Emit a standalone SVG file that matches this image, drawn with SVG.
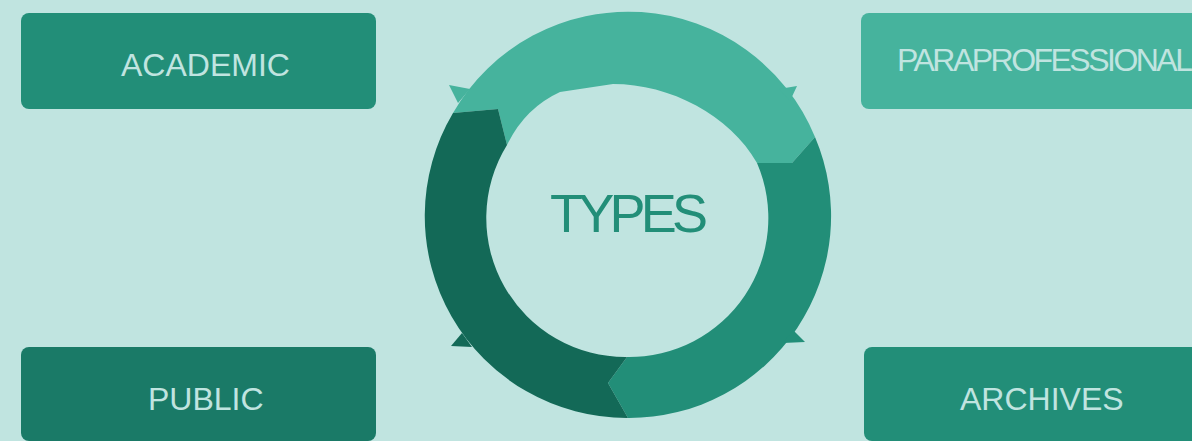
<svg xmlns="http://www.w3.org/2000/svg" width="1192" height="441" viewBox="0 0 1192 441">
  <style>
    .label { font-family: "Liberation Sans", Arial, sans-serif; font-size: 32px; fill: #c0e4e0; }
    .title { font-family: "Liberation Sans", Arial, sans-serif; font-size: 54px; fill: #228e78; }
    .light { fill: #46b39d; }
    .mid { fill: #228e78; }
    .dark { fill: #136957; }
  </style>
  <rect width="1192" height="441" fill="#c0e4e0"/>

  <!-- cycle ring: three curved arrows running clockwise -->
  <g id="connectors">
    <!-- top arc -->
    <path class="light" d="M453,113 A202,202 0 0 1 815,137 L792,163 L757,163 C730,115 670,84 613,84 L560,92 Q525,108 507,145 L498,109 Z"/>
    <polygon class="light" points="449,85 470,89 458,103"/>
    <polygon class="light" points="797,86 779,89 790,101"/>
    <!-- right arc -->
    <path class="mid" d="M815,137 A202,202 0 0 1 628,418 L608,383 L627,357 A139,139 0 0 0 757,163 L792,163 Z"/>
    <polygon class="mid" points="805,342 793,330 783,343"/>
    <!-- left arc -->
    <path class="dark" d="M628,418 A202,202 0 0 1 453,113 L498,109 L507,145 A139,139 0 0 0 627,357 L608,383 Z"/>
    <polygon class="dark" points="451,346 462,333 472,347"/>
  </g>

  <g id="types">
    <text class="title" x="550" y="232" textLength="158" lengthAdjust="spacing">TYPES</text>
  </g>

  <g id="academic">
    <rect x="21" y="13" width="355" height="96" rx="8" fill="#228e78"/>
    <text class="label" x="121" y="76">ACADEMIC</text>
  </g>

  <g id="paraprofessional">
    <rect x="861" y="13" width="345" height="96" rx="8" fill="#46b39d"/>
    <text class="label" x="897" y="71" textLength="296" lengthAdjust="spacing">PARAPROFESSIONAL</text>
  </g>

  <g id="public">
    <rect x="21" y="347" width="355" height="94" rx="8" fill="#1a7a67"/>
    <text class="label" x="148" y="410">PUBLIC</text>
  </g>

  <g id="archives">
    <rect x="864" y="347" width="345" height="94" rx="8" fill="#228e78"/>
    <text class="label" x="960" y="410">ARCHIVES</text>
  </g>
</svg>
